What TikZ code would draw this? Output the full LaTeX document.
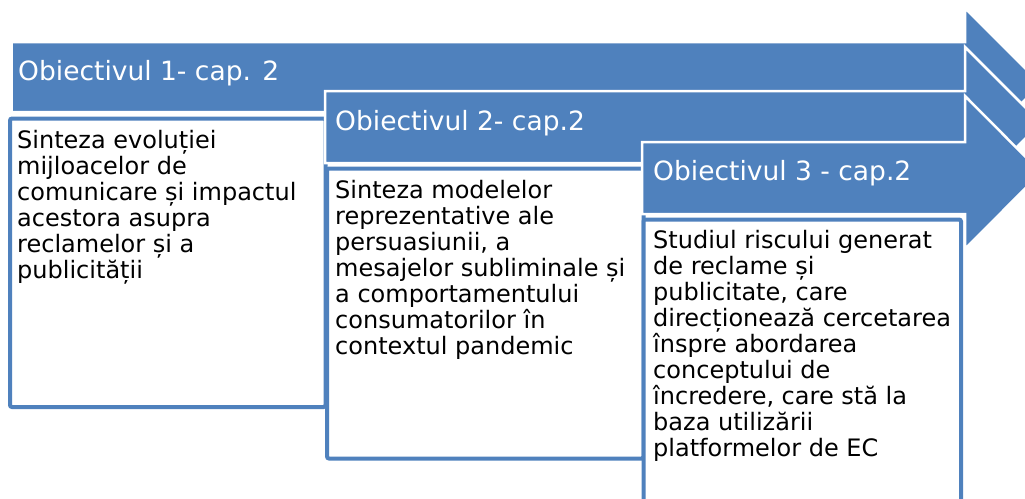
\documentclass[tikz,border=0pt]{standalone}
\usepackage{fontspec}
\setmainfont{DejaVu Sans}
\definecolor{accent}{HTML}{4F81BD}
\tikzset{
  objarrow/.style={fill=accent, draw=white, line width=2.5pt, line join=miter},
  objbox/.style={fill=white, draw=accent, line width=4pt, rounded corners=2pt},
  titletext/.style={anchor=base west, inner sep=0pt, text=white,
    font=\fontsize{26.5}{32}\selectfont},
  bodytext/.style={anchor=base west, inner sep=0pt,
    font=\fontsize{24}{26}\selectfont},
}
\newcommand{\bodylines}[2]{\parbox[t]{#1}{\raggedright #2}}
\begin{document}
\begin{tikzpicture}[x=1pt,y=-1pt]
\useasboundingbox (0,0) rectangle (1025,498);
\clip (0,0) rectangle (1025,498);

% first objective: arrow and description
\path[objarrow] (11.5,42) -- (965,42) -- (965,8) -- (1041,84)
  -- (965,160) -- (965,112) -- (11.5,112) -- cycle;
\node[titletext] (t1) at (18,80) {Obiectivul 1- cap. 2};
\path[objbox] (10,118.5) rectangle (325.5,407);
\node[bodytext] (d1) at (17,148) {\bodylines{300pt}{Sinteza evoluției\\mijloacelor de\\comunicare și impactul\\acestora asupra\\reclamelor și a\\publicității}};

% second objective
\path[objarrow] (325,91) -- (965,91) -- (965,47) -- (1041,123)
  -- (965,199) -- (965,163) -- (325,163) -- cycle;
\node[titletext] (t2) at (335,130) {Obiectivul 2- cap.2};
\path[objbox] (327,168.5) rectangle (643.5,458.5);
\node[bodytext] (d2) at (335,198) {\bodylines{300pt}{Sinteza modelelor\\reprezentative ale\\persuasiunii, a\\mesajelor subliminale și\\a comportamentului\\consumatorilor în\\contextul pandemic}};

% third objective
\path[objarrow] (642,142) -- (965,142) -- (965,96) -- (1041,172.5)
  -- (965,249) -- (965,214) -- (642,214) -- cycle;
\node[titletext] (t3) at (653,180) {Obiectivul 3 - cap.2};
\path[objbox] (643.5,219.5) rectangle (961,530);
\node[bodytext] (d3) at (653,248) {\bodylines{300pt}{Studiul riscului generat\\de reclame și\\publicitate, care\\direcționează cercetarea\\înspre abordarea\\conceptului de\\încredere, care stă la\\baza utilizării\\platformelor de EC}};
\end{tikzpicture}
\end{document}
